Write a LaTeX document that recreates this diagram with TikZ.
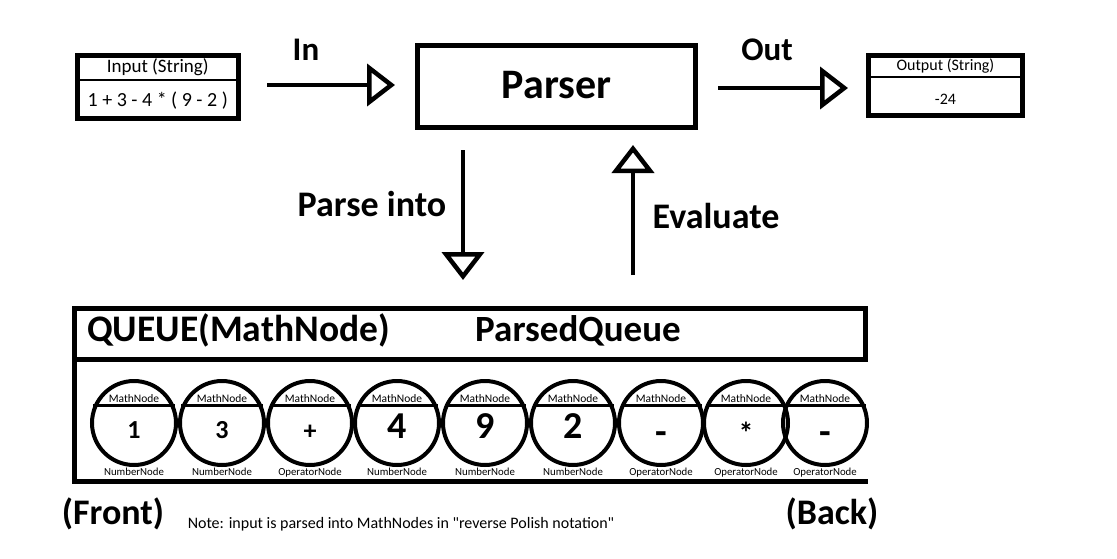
\documentclass[tikz,border=0pt]{standalone}
\usepackage{fontspec}
\setmainfont{Carlito}
\usetikzlibrary{arrows.meta,calc}
\newcommand{\fsz}[1]{\fontsize{#1}{#1}\selectfont}
\begin{document}
\begin{tikzpicture}[x=1pt,y=-1pt,
  frame/.style={draw, line width=5pt, inner sep=0pt, outer sep=0pt},
  divider/.style={line width=2.5pt},
  hollow/.style={line width=4.5pt, -{Triangle[open, length=28pt, width=42pt]}},
  lbl/.style={inner sep=0pt, font=\bfseries\fsz{36}},
  txt/.style={inner sep=0pt},
  mnode/.style={draw, circle, line width=4pt, minimum size=84pt, inner sep=0pt},
]
\useasboundingbox[fill=white] (0,0) rectangle (1117,558);

% Input box
\node[frame, minimum width=160.5pt, minimum height=63pt] (inbox) at (157.75,87) {};
\draw[divider] (inbox.west |- 0,80) -- (inbox.east |- 0,80);
\node[txt, font=\fsz{19}] (intitle) at (157.75,67) {Input (String)};
\node[txt, font=\fsz{20}] (inexpr) at (157.75,101) {1 + 3 - 4 * ( 9 - 2 )};

% Parser box
\node[frame, minimum width=278pt, minimum height=82pt] (parser) at (556.5,86.5) {};
\node[txt, font=\bfseries\fsz{42}] (parsertxt) at (556.5,85) {Parser};

% Output box
\node[frame, minimum width=154pt, minimum height=60pt] (outbox) at (945.5,85.5) {};
\draw[divider] (outbox.west |- 0,77) -- (outbox.east |- 0,77);
\node[txt, font=\fsz{16}] (outtitle) at (945.5,66) {Output (String)};
\node[txt, font=\fsz{16}] (outval) at (945.5,99) {-24};

% Horizontal arrows
\draw[hollow, shorten <=29pt, shorten >=22.5pt] ([yshift=2pt]inbox.east) -- ([yshift=2pt]inbox.east -| parser.west);
\node[txt, font=\bfseries\fsz{33}] (inlbl) at (306,50) {In};
\draw[hollow, shorten <=22.5pt, shorten >=20.5pt] ([yshift=-1.5pt]parser.east) -- ([yshift=-1.5pt]parser.east -| outbox.west);
\node[txt, font=\bfseries\fsz{33}] (outlbl) at (767,50) {Out};

% Queue
\node[frame, minimum width=791pt, minimum height=51pt] (qhead) at (470,334) {};
\coordinate (qbl) at (74.5,481.5);
\coordinate (qbr) at (868,481.5);
\draw[line width=5pt] (qhead.south west) -- (qbl) -- (qbr);
\node[lbl, font=\bfseries\fsz{37.5}, anchor=base west] (qtype) at (87,341) {QUEUE(MathNode)};
\node[lbl, font=\bfseries\fsz{37}, anchor=base] (qname) at (578,341) {ParsedQueue};

% Vertical arrows
\draw[hollow, shorten <=22.5pt, shorten >=28.5pt] ([xshift=-93.5pt]parser.south) -- ([xshift=-93.5pt]parser.south |- qhead.north);
\node[lbl] (parselbl) at (372,204) {Parse into};
\draw[hollow, shorten <=33.5pt, shorten >=17.5pt] ([xshift=76.5pt]parser.south |- qhead.north) -- ([xshift=76.5pt]parser.south);
\node[lbl] (evallbl) at (716,216) {Evaluate};

% MathNodes
\foreach \i/\x/\v/\s/\b/\t in {1/134/1/26/438/NumberNode, 2/222/3/26/438/NumberNode, 3/310/+/26/439/OperatorNode,
  4/397/4/38/438/NumberNode, 5/485/9/38/438/NumberNode, 6/573/2/38/438/NumberNode,
  7/661/-/38/444/OperatorNode, 8/746/*/30/443/OperatorNode, 9/825/-/38/444/OperatorNode} {
  \node[mnode] (c\i) at (\x,423) {};
  \draw[line width=3pt] (c\i.157) -- (c\i.23);
  \node[txt, font=\fsz{11.5}, anchor=base] (m\i) at (\x,402) {MathNode};
  \node[txt, font=\bfseries\fsz{\s}, anchor=base] (v\i) at (\x,\b) {\v};
  \node[txt, font=\fsz{10.8}, anchor=base] (t\i) at (\x,475) {\t};
}

% Bottom labels
\node[lbl] (front) at (113,514) {(Front)};
\node[lbl] (back) at (832,514) {(Back)};
\node[txt, font=\fsz{16}] (note) at (401,524) {Note: input is parsed into MathNodes in \textquotedbl reverse Polish notation\textquotedbl};
\end{tikzpicture}
\end{document}
